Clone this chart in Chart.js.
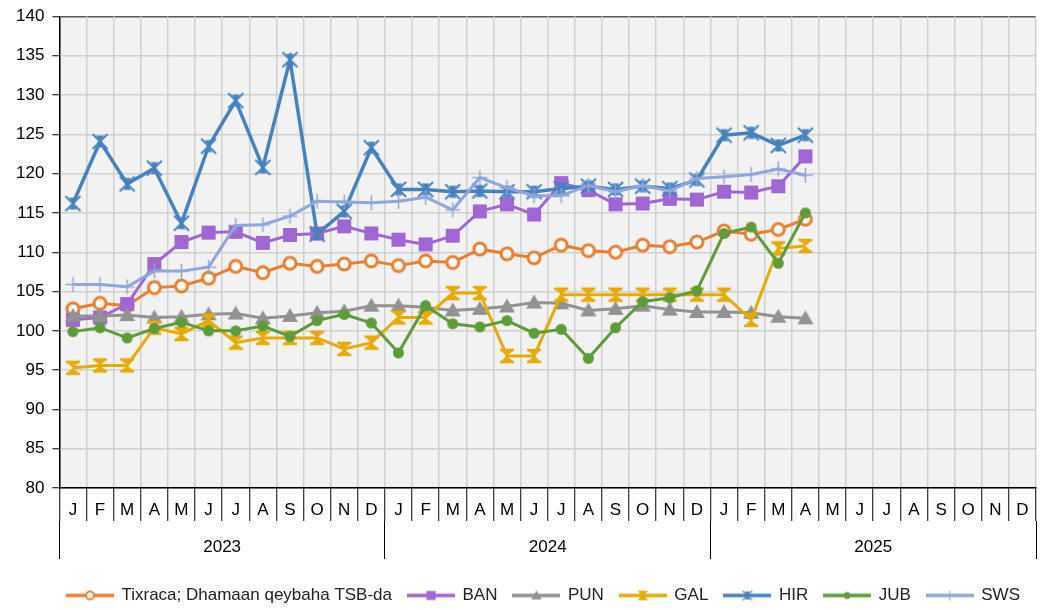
<!DOCTYPE html>
<html>
<head>
<meta charset="utf-8">
<script src="https://cdn.jsdelivr.net/npm/chart.js@4.4.0/dist/chart.umd.min.js"></script>
<style>
html, body { margin: 0; padding: 0; background: #fff; }
#wrap { width: 1049px; height: 610px; }
</style>
</head>
<body>
<div id="wrap"><canvas id="graph_index"></canvas></div>
<script>
// x axis : bilaha (J..D) x 3 sano
const months = ['J','F','M','A','M','J','J','A','S','O','N','D'];
const years = ['2023','2024','2025'];
const seriesNames = ['Tixraca; Dhamaan qeybaha TSB-da','BAN','PUN','GAL','HIR','JUB','SWS'];

// y axis : index values, Jan 2023 - Apr 2025
const tixraca = [102.8,103.5,103.2,105.5,105.7,106.7,108.2,107.4,108.6,108.2,108.5,108.9,
                 108.3,108.9,108.7,110.4,109.8,109.3,110.9,110.2,110.0,110.9,110.7,111.3,
                 112.7,112.3,112.9,114.2];
const ban     = [101.4,101.7,103.4,108.5,111.3,112.5,112.6,111.2,112.2,112.4,113.3,112.4,
                 111.6,111.0,112.1,115.2,116.1,114.8,118.8,117.9,116.1,116.2,116.8,116.7,
                 117.7,117.6,118.4,122.2];
const pun     = [101.9,101.9,102.0,101.7,101.8,102.1,102.2,101.6,101.9,102.3,102.5,103.2,
                 103.2,103.0,102.6,102.8,103.1,103.6,103.5,102.6,102.8,103.2,102.7,102.4,
                 102.4,102.3,101.8,101.6];
const gal     = [95.3,95.6,95.6,100.4,99.6,101.3,98.5,99.1,99.1,99.1,97.7,98.5,
                 101.7,101.7,104.8,104.8,96.8,96.8,104.6,104.6,104.6,104.6,104.6,104.6,
                 104.6,101.4,110.5,110.8];
const hir     = [116.2,124.1,118.7,120.7,113.7,123.5,129.3,120.8,134.5,112.3,115.2,123.3,
                 118.0,118.0,117.7,117.8,117.7,117.7,118.1,118.4,118.0,118.4,118.1,119.2,
                 124.9,125.2,123.6,124.9];
const jub     = [99.9,100.4,99.1,100.3,101.1,100.0,100.0,100.6,99.3,101.3,102.1,101.0,
                 97.2,103.2,100.9,100.5,101.3,99.7,100.2,96.5,100.4,103.7,104.2,105.1,
                 112.4,113.2,108.6,115.0];
const sws     = [105.9,105.9,105.6,107.6,107.6,108.1,113.4,113.5,114.6,116.5,116.4,116.3,
                 116.5,117.0,115.4,119.5,118.2,117.2,117.2,118.5,117.7,118.5,117.8,119.4,
                 119.6,119.9,120.6,119.8];

const yTicks = [80,85,90,95,100,105,110,115,120,125,130,135,140];

const labels = [];
years.forEach(function() { months.forEach(function(m) { labels.push(m); }); });

const colors = ['#ED7D31','#A066D3','#929292','#E5AB00','#4682BE','#5E9C3A','#90A6DA'];
const markers = ['ring','square','triangle','hourglass','xbar','dot','plus'];
const values = [tixraca, ban, pun, gal, hir, jub, sws];

// marker drawing (Excel style)
function drawMarker(ctx, kind, color, cx, cy, r) {
	ctx.save();
	ctx.fillStyle = color;
	ctx.strokeStyle = color;
	if (kind === 'ring') {
		ctx.lineWidth = r * 0.5;
		ctx.beginPath();
		ctx.arc(cx, cy, r, 0, Math.PI * 2);
		ctx.fillStyle = '#fff';
		ctx.fill();
		ctx.stroke();
	} else if (kind === 'square') {
		ctx.fillRect(cx - r, cy - r, 2 * r, 2 * r);
	} else if (kind === 'triangle') {
		ctx.beginPath();
		ctx.moveTo(cx, cy - r);
		ctx.lineTo(cx + r, cy + r * 0.75);
		ctx.lineTo(cx - r, cy + r * 0.75);
		ctx.closePath();
		ctx.fill();
	} else if (kind === 'hourglass') {
		ctx.beginPath();
		ctx.moveTo(cx - r, cy - r * 0.85);
		ctx.lineTo(cx + r, cy - r * 0.85);
		ctx.lineTo(cx, cy);
		ctx.lineTo(cx + r, cy + r * 0.85);
		ctx.lineTo(cx - r, cy + r * 0.85);
		ctx.lineTo(cx, cy);
		ctx.closePath();
		ctx.fill();
		ctx.lineWidth = r * 0.35;
		ctx.beginPath();
		ctx.moveTo(cx - r, cy - r * 0.85); ctx.lineTo(cx + r, cy - r * 0.85);
		ctx.moveTo(cx - r, cy + r * 0.85); ctx.lineTo(cx + r, cy + r * 0.85);
		ctx.stroke();
	} else if (kind === 'xbar') {
		ctx.lineWidth = r * 0.25;
		ctx.beginPath();
		ctx.moveTo(cx - r, cy - r); ctx.lineTo(cx + r, cy + r);
		ctx.moveTo(cx + r, cy - r); ctx.lineTo(cx - r, cy + r);
		ctx.stroke();
		ctx.beginPath();
		ctx.moveTo(cx - r * 0.5, cy - r * 0.8);
		ctx.lineTo(cx + r * 0.5, cy - r * 0.8);
		ctx.lineTo(cx, cy);
		ctx.lineTo(cx + r * 0.5, cy + r * 0.8);
		ctx.lineTo(cx - r * 0.5, cy + r * 0.8);
		ctx.lineTo(cx, cy);
		ctx.closePath();
		ctx.fill();
	} else if (kind === 'dot') {
		ctx.beginPath();
		ctx.arc(cx, cy, r, 0, Math.PI * 2);
		ctx.fill();
	} else if (kind === 'plus') {
		ctx.lineWidth = Math.max(1.2, r * 0.2);
		ctx.beginPath();
		ctx.moveTo(cx - r, cy); ctx.lineTo(cx + r, cy);
		ctx.moveTo(cx, cy - r); ctx.lineTo(cx, cy + r);
		ctx.stroke();
	}
	ctx.restore();
}

const pointSize = {ring: 6, square: 7, triangle: 8, hourglass: 7, xbar: 7.5, dot: 5.5, plus: 7.5};

function makePoint(kind, color) {
	const r = pointSize[kind];
	const s = Math.ceil(2 * r + 6);
	const c = document.createElement('canvas');
	c.width = s; c.height = s;
	drawMarker(c.getContext('2d'), kind, color, s / 2, s / 2, r);
	return c;
}

function makeLegendIcon(kind, color) {
	const c = document.createElement('canvas');
	c.width = 48; c.height = 14;
	const ctx = c.getContext('2d');
	ctx.strokeStyle = color;
	ctx.lineWidth = 3.5;
	ctx.beginPath();
	ctx.moveTo(0, 7); ctx.lineTo(48, 7);
	ctx.stroke();
	drawMarker(ctx, kind, color, 24, 7, pointSize[kind] * 0.65);
	return c;
}

const legendIcons = markers.map(function(k, i) { return makeLegendIcon(k, colors[i]); });

const datasets = seriesNames.map(function(name, i) {
	return {
		label: name,
		data: values[i],
		borderColor: colors[i],
		backgroundColor: colors[i],
		borderWidth: i === 4 ? 3.5 : 3,
		pointStyle: makePoint(markers[i], colors[i]),
		pointRadius: 6,
		tension: 0,
		order: 7 - i
	};
});

// plot area background
const plotBg = {
	id: 'plotBg',
	beforeDraw(chart) {
		const {ctx, chartArea: a} = chart;
		ctx.save();
		ctx.fillStyle = '#f2f2f2';
		ctx.fillRect(a.left, a.top, a.right - a.left, a.bottom - a.top);
		ctx.restore();
	}
};

Chart.defaults.font.family = "'Liberation Sans', Arial, sans-serif";
Chart.defaults.color = '#000';

const ctx = document.getElementById('graph_index').getContext('2d');
const indexChart = new Chart(ctx, {
	type: 'line',
	data: { labels: labels, datasets: datasets },
	plugins: [plotBg],
	options: {
		responsive: true,
		maintainAspectRatio: false,
		animation: false,
		layout: { padding: { left: 8, right: 13, top: 0, bottom: -4 } },
		scales: {
			y: {
				min: 80,
				max: 140,
				afterBuildTicks: function(axis) { axis.ticks = yTicks.map(function(v) { return {value: v}; }); },
				ticks: { font: { size: 17, lineHeight: 1 }, padding: 8, color: '#000' },
				grid: {
					color: function(c) { return c.tick && c.tick.value === 140 ? '#595959' : '#d0d0d0'; },
					lineWidth: 1.5,
					tickColor: '#000',
					tickLength: 7,
					tickWidth: 1
				},
				border: { color: '#000', width: 1.5 }
			},
			x: {
				offset: true,
				weight: 0,
				afterFit: function(axis) { axis.height = 33; },
				ticks: { font: { size: 17 }, autoSkip: false, maxRotation: 0, padding: -21, color: '#000' },
				grid: { offset: true, color: '#d0d0d0', lineWidth: 1.5, tickColor: '#000', tickWidth: 1, tickLength: 33 },
				border: { color: '#000', width: 1.5 }
			},
			x2: {
				type: 'category',
				labels: years,
				position: 'bottom',
				offset: true,
				weight: 1,
				afterFit: function(axis) { axis.height = 50; },
				ticks: { font: { size: 17 }, autoSkip: false, maxRotation: 0, padding: -22, color: '#000' },
				grid: { offset: true, drawOnChartArea: false, tickColor: '#000', tickWidth: 1, tickLength: 38 },
				border: { display: false }
			}
		},
		plugins: {
			tooltip: { enabled: false },
			legend: {
				position: 'bottom',
				align: 'end',
				labels: {
					usePointStyle: true,
					pointStyleWidth: 46,
					padding: 16,
					font: { size: 17 },
					color: '#222',
					generateLabels: function(chart) {
						return chart.data.datasets.map(function(ds, i) {
							return {
								text: ds.label,
								pointStyle: legendIcons[i],
								fillStyle: colors[i],
								strokeStyle: colors[i],
								lineWidth: 0,
								hidden: false,
								datasetIndex: i,
								fontColor: '#222'
							};
						});
					}
				}
			}
		}
	}
});
</script>
</body>
</html>
